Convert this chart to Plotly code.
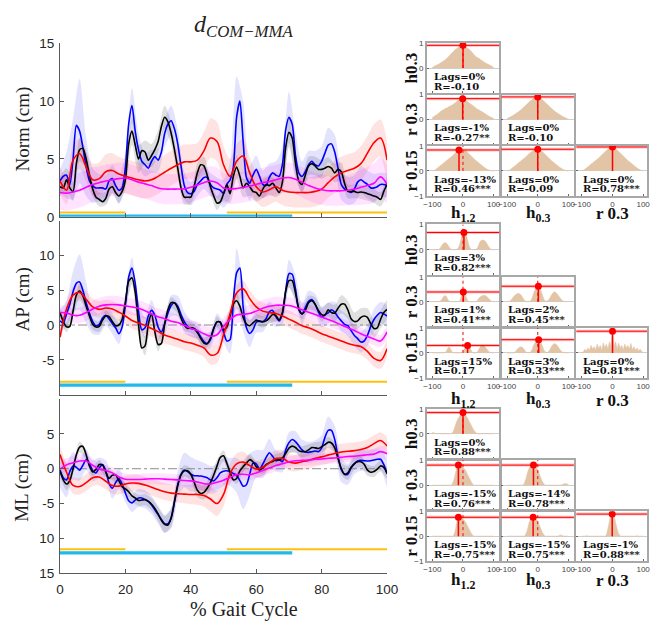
import plotly.graph_objects as go

# ---------------- data ----------------
pct1 = list(range(0, 101))        # 1 % grid (blue / black)
pct2 = list(range(0, 101, 2))     # 2 % grid (red / magenta, band widths)
lags = list(range(-100, 101, 5))  # cross-correlation lags (%)

# Norm panel
norm_blue = [3.1,3.5,3.6,2.8,5.0,7.9,7.4,6.0,4.3,3.1,
             2.7,2.5,2.5,2.5,2.4,3.1,3.3,2.7,2.3,2.5,
             4.3,8.0,9.6,7.4,5.8,4.8,4.5,4.2,4.8,5.2,
             4.9,5.6,7.2,8.0,8.3,7.6,6.3,4.4,2.7,2.1,
             2.0,2.2,2.8,3.1,3.4,3.4,2.8,2.5,2.4,2.3,
             2.0,2.8,3.2,4.3,8.6,10.0,6.5,3.4,2.9,3.6,
             4.1,3.5,2.8,2.7,3.4,3.8,3.6,3.5,4.5,7.5,
             8.6,8.0,5.3,3.8,3.5,3.9,4.5,4.8,4.5,4.4,
             4.8,5.5,6.2,6.3,5.6,4.2,2.8,2.4,2.25,2.1,
             2.4,3.0,3.2,3.0,2.8,2.5,2.5,2.6,2.8,2.8,
             2.7]
norm_black = [2.6,2.5,3.2,2.5,2.2,4.6,5.8,5.9,5.0,3.6,
              2.4,1.7,1.5,1.3,1.6,2.4,2.6,2.1,1.8,2.2,
              3.2,6.3,7.4,6.2,5.0,5.7,5.6,4.9,5.3,5.8,
              6.5,7.8,8.6,8.2,7.2,5.8,4.2,2.5,1.7,1.7,
              1.7,2.6,3.8,4.5,4.4,3.6,2.6,1.8,1.2,1.3,
              2.0,2.8,2.0,3.5,4.3,3.5,2.5,2.9,2.6,2.2,
              2.1,1.8,2.4,2.8,2.7,2.9,2.5,2.1,3.0,6.0,
              7.3,6.8,4.6,3.1,2.8,3.6,4.4,4.6,4.4,4.1,
              4.1,4.2,4.35,4.2,3.8,4.1,3.9,2.9,2.2,2.2,
              2.2,2.1,2.15,2.1,2.0,1.9,1.8,1.7,1.5,2.2,
              2.8]
norm_red = [3.1,2.3,4.9,5.45,4.3,3.2,3.3,3.9,4.0,3.7,
            3.5,3.35,3.2,3.1,3.2,3.5,3.85,4.2,4.5,4.75,
            4.75,4.9,5.7,6.8,6.5,4.5,3.5,4.8,5.25,3.8,
            2.6,2.15,2.35,2.6,2.3,2.15,2.1,2.1,2.1,2.2,
            2.4,2.95,3.45,3.8,4.0,4.2,4.6,5.5,6.4,6.8,
            4.9]
norm_mag = [2.1,2.05,2.15,2.3,2.55,2.8,2.95,3.1,3.2,3.3,
            3.35,3.2,3.0,2.85,2.7,2.5,2.4,2.4,2.4,2.42,
            2.55,2.75,2.95,3.1,2.95,2.5,2.4,2.45,2.55,2.65,
            2.8,2.95,3.05,3.2,3.35,3.4,3.25,3.0,2.7,2.5,
            2.35,2.25,2.25,2.25,2.3,2.4,2.55,2.7,2.9,3.45,
            2.8]
norm_blue_sd = [1.0,2.0,3.5,4.5,2.5,1.5,1.2,1.2,1.2,1.2,
                1.3,1.5,1.4,1.0,1.0,1.0,1.2,1.3,1.3,1.2,
                1.0,1.0,1.0,1.0,1.0,1.2,1.5,3.5,3.5,1.5,
                1.2,1.2,1.2,1.2,1.5,2.2,2.0,1.3,1.2,1.2,
                1.3,1.5,1.5,1.3,1.2,1.2,1.2,1.2,1.2,1.0,
                1.0]
norm_black_sd = [0.8,1.0,0.8,1.0,0.8,0.6,0.6,0.6,0.6,0.6,
                 0.8,1.2,1.2,1.0,1.0,1.0,1.0,1.0,0.8,0.6,
                 0.6,0.8,0.8,0.6,0.6,0.6,0.8,1.0,0.8,0.8,
                 0.8,0.8,0.8,0.8,0.8,1.3,1.0,0.8,0.8,0.8,
                 0.8,0.8,0.8,0.8,0.6,0.6,0.6,0.6,0.6,0.6,
                 0.7]
norm_red_sd = [1.2,1.2,1.3,1.3,1.3,1.4,1.4,1.5,1.5,1.5,
               1.5,1.5,1.5,1.5,1.5,1.5,1.5,1.5,1.5,1.5,
               1.5,1.5,1.6,1.7,1.7,1.6,1.5,1.5,1.5,1.4,
               1.3,1.3,1.3,1.3,1.3,1.3,1.3,1.3,1.3,1.3,
               1.3,1.3,1.4,1.4,1.4,1.4,1.5,1.5,1.6,1.6,
               1.6]
norm_mag_sd = [1.5,1.5,1.5,1.5,1.5,1.5,1.4,1.4,1.4,1.4,
               1.3,1.3,1.3,1.3,1.3,1.3,1.3,1.3,1.3,1.3,
               1.3,1.3,1.3,1.3,1.3,1.3,1.3,1.3,1.3,1.3,
               1.3,1.3,1.3,1.3,1.3,1.3,1.3,1.3,1.3,1.3,
               1.3,1.3,1.3,1.3,1.3,1.4,1.5,1.6,1.7,1.7,
               1.6]

# AP panel
ap_blue = [0.6,0.3,1.6,3.0,4.8,6.0,6.2,5.0,3.2,1.7,
           0.5,-0.1,0.1,1.0,1.4,0.9,0.2,-0.4,-1.25,-0.3,
           2.9,6.9,8.2,6.0,2.0,-0.7,-0.4,1.3,2.1,1.4,
           -0.3,-1.0,0.15,1.7,2.8,3.2,2.7,1.5,0.5,-0.2,
           -0.5,-0.55,-0.9,-1.7,-2.4,-2.65,-2.1,-0.5,0.45,0.4,
           -1.0,-2.3,-2.1,3.5,7.5,8.2,2.6,-0.4,-1.2,-0.7,
           0.4,0.6,0.5,0.9,1.9,2.1,1.2,0.6,1.6,5.0,
           7.4,7.3,5.2,2.2,1.6,2.5,3.4,3.65,3.0,1.9,
           1.15,1.5,1.75,2.2,1.85,1.15,0.6,0.1,-0.1,-0.8,
           -1.5,-1.95,-2.45,-2.3,-1.5,-0.2,0.8,1.4,1.8,1.6,
           1.3]
ap_black = [1.8,0.5,-0.25,-0.2,2.0,4.3,4.9,4.2,2.7,1.3,
            0.1,-0.3,-0.2,0.7,1.3,1.2,0.5,-0.1,0.0,0.8,
            3.3,6.3,6.8,4.7,0.15,-3.3,-3.0,0.15,1.6,-1.0,
            -2.8,-2.65,0.15,2.2,3.2,3.2,2.4,1.0,0.0,-0.5,
            -0.35,-0.5,-1.1,-1.9,-2.6,-2.7,-1.9,-0.5,0.45,0.4,
            -0.7,-0.3,1.3,3.0,3.5,2.7,1.1,0.15,-0.1,0.3,
            0.7,0.5,0.45,0.6,1.0,1.5,1.35,0.75,1.8,4.8,
            6.4,6.4,4.6,2.4,1.6,2.1,3.2,3.5,3.0,2.1,
            1.5,1.4,2.2,1.8,1.7,2.4,3.0,3.0,2.2,0.9,
            0.5,0.6,1.1,1.3,1.1,0.2,-0.5,-0.4,0.8,1.8,
            2.25]
ap_red = [-1.75,2.3,4.3,4.7,3.7,2.6,2.25,2.45,2.3,1.85,
          1.3,0.65,0.3,-0.05,-0.5,-0.95,-1.45,-1.75,-2.05,-2.4,
          -2.6,-2.9,-3.3,-4.3,-4.1,-1.4,1.6,4.6,5.2,3.8,
          2.6,2.0,1.8,1.65,1.3,0.85,0.4,-0.1,-0.4,-0.8,
          -1.25,-1.6,-1.95,-2.3,-2.65,-2.9,-3.1,-3.8,-4.8,-5.1,
          -3.4]
ap_mag = [1.8,1.75,1.4,1.4,1.8,2.3,2.7,2.9,2.95,2.9,
          2.75,2.6,2.4,2.05,1.6,1.2,0.9,0.55,0.35,-0.05,
          -0.45,-0.8,-1.25,-1.6,-1.4,-0.2,0.8,1.45,1.55,1.65,
          2.0,2.4,2.7,2.85,2.85,2.8,2.55,2.2,1.85,1.5,
          1.15,0.8,0.45,0.0,-0.4,-0.8,-1.25,-1.65,-2.0,-2.3,
          -1.0]
ap_blue_sd = [1.5,2.0,3.0,4.0,3.0,1.8,1.5,1.5,1.5,1.5,
              1.5,1.5,1.5,1.5,1.5,1.5,1.5,1.5,1.5,1.5,
              1.2,1.2,1.2,1.2,1.2,1.5,2.0,3.5,3.5,2.0,
              1.5,1.5,1.5,1.5,1.5,2.0,2.0,1.5,1.5,1.5,
              1.5,1.5,1.5,1.5,1.5,1.5,1.5,1.5,1.5,1.5,
              1.5]
ap_black_sd = [0.8,0.8,0.8,1.0,0.8,0.8,0.8,0.8,0.8,0.8,
               1.0,1.0,1.4,1.4,1.0,1.0,0.8,0.8,0.8,0.8,
               0.8,0.8,0.8,0.8,0.8,0.8,1.0,1.2,0.8,0.8,
               0.8,0.8,0.8,0.8,0.8,1.0,1.0,0.8,1.0,1.0,
               1.0,1.0,1.2,1.3,1.3,1.3,1.3,1.3,1.3,1.3,
               1.3]
ap_red_sd = [1.0,1.1,1.2,1.2,1.2,1.2,1.2,1.2,1.2,1.2,
             1.2,1.2,1.2,1.2,1.2,1.2,1.2,1.2,1.2,1.2,
             1.2,1.2,1.3,1.4,1.4,1.3,1.2,1.2,1.2,1.2,
             1.2,1.2,1.2,1.2,1.2,1.2,1.2,1.2,1.2,1.2,
             1.2,1.2,1.2,1.2,1.2,1.2,1.2,1.2,1.2,1.2,
             1.2]
ap_mag_sd = [1.0,1.0,1.1,1.1,1.2,1.2,1.2,1.25,1.25,1.25,
             1.2,1.2,1.2,1.2,1.2,1.2,1.2,1.2,1.2,1.2,
             1.2,1.2,1.3,1.3,1.3,1.2,1.2,1.2,1.2,1.2,
             1.2,1.2,1.2,1.2,1.2,1.2,1.2,1.2,1.1,1.1,
             1.1,1.0,1.0,1.0,1.0,0.9,0.9,0.9,0.9,0.85,
             0.85]

# ML panel
ml_blue = [-0.2,-1.3,-1.6,-0.4,0.4,0.2,-0.2,0.5,1.3,0.8,
           -0.3,-0.6,0.1,0.6,-0.3,-2.1,-2.8,-2.0,-1.4,-2.2,
           -3.5,-4.6,-4.9,-4.5,-4.2,-4.2,-4.4,-4.7,-5.2,-5.9,
           -6.6,-7.3,-7.9,-7.9,-7.1,-4.8,-2.3,-0.8,-0.2,-0.4,
           -0.8,-1.0,-1.0,-1.05,-1.15,-1.3,-1.6,-1.75,-1.3,-0.6,
           -0.35,-0.3,-0.45,-0.7,-0.95,-1.7,-2.5,-2.3,-0.8,0.8,
           0.7,-0.05,0.65,1.6,2.3,1.8,1.15,1.3,1.0,2.7,
           3.75,4.2,3.9,3.3,2.7,2.4,2.35,2.45,2.55,2.45,
           3.0,4.5,5.5,5.5,4.2,1.8,-0.1,-0.8,-0.8,0.1,
           0.7,1.1,1.2,1.15,1.1,1.15,1.25,1.35,1.35,0.6,
           -0.75]
ml_black = [-0.3,-1.6,-2.2,-1.7,0.0,2.0,3.1,3.2,2.0,0.4,
            -0.45,-0.1,0.6,0.55,-0.5,-1.4,-0.95,-0.9,-1.7,-2.6,
            -2.9,-3.3,-3.9,-4.2,-4.55,-4.5,-4.45,-4.7,-5.1,-5.7,
            -6.5,-7.4,-8.0,-8.1,-7.0,-4.7,-2.4,-0.9,-0.3,-0.3,
            -0.8,-1.9,-3.1,-3.55,-3.4,-2.8,-2.0,-0.9,0.4,1.6,
            1.85,0.8,-0.5,-1.6,-1.4,-0.3,0.3,0.8,1.3,1.0,
            0.3,-0.2,0.1,0.6,0.85,1.05,1.3,1.25,1.55,2.2,
            2.95,3.25,3.05,2.6,2.45,2.45,2.7,3.05,3.0,2.9,
            3.15,3.45,3.8,3.7,3.0,1.5,0.0,-0.8,-0.6,0.2,
            0.75,1.0,1.0,0.65,-0.2,-0.5,-0.4,-0.05,0.4,0.2,
            -0.65]
ml_red = [2.05,-0.5,-2.4,-2.55,-2.0,-1.3,-1.2,-1.8,-2.4,-2.5,
          -2.2,-2.05,-2.1,-2.35,-2.65,-3.0,-3.3,-3.5,-3.6,-3.65,
          -3.7,-3.7,-3.85,-4.35,-5.0,-3.7,-0.7,0.7,0.95,0.45,
          -0.05,0.2,0.85,1.45,1.5,0.95,0.8,1.0,1.2,1.5,
          1.7,1.95,2.2,2.4,2.5,2.6,2.75,3.05,3.6,4.05,
          3.25]
ml_mag = [-0.05,0.55,0.85,1.1,1.1,0.5,-0.05,-0.25,-0.6,-1.2,
          -1.5,-1.55,-1.55,-1.5,-1.45,-1.45,-1.5,-1.55,-1.6,-1.7,
          -1.75,-1.9,-2.15,-2.2,-1.95,-1.65,-1.25,-0.85,-0.8,-0.85,
          -0.6,-0.25,0.1,0.45,0.7,1.0,1.15,1.2,1.25,1.35,
          1.4,1.5,1.55,1.65,1.75,1.8,1.9,2.0,2.1,2.45,
          2.15]
ml_blue_sd = [2.5,2.5,2.0,1.5,1.5,1.5,1.5,1.5,1.5,1.5,
              1.3,1.3,1.3,1.3,1.3,1.3,1.3,1.5,2.0,2.5,
              2.5,2.2,2.0,2.0,2.0,2.0,2.0,2.5,3.3,3.0,
              2.0,2.0,2.0,1.5,1.5,1.5,1.5,1.5,1.5,1.5,
              1.8,2.0,2.0,1.8,1.5,1.5,1.5,1.5,1.5,1.5,
              1.8]
ml_black_sd = [0.9,0.9,0.8,0.8,0.7,0.7,0.7,0.7,0.7,0.7,
               0.8,0.8,0.8,0.8,0.9,1.0,1.2,1.3,1.0,0.8,
               0.9,1.0,1.0,1.0,0.9,0.8,0.8,0.8,0.8,0.8,
               0.8,0.8,0.8,0.8,0.8,0.8,0.8,0.8,0.8,0.8,
               0.8,0.8,0.8,0.9,1.0,0.9,0.8,0.8,0.8,0.8,
               0.8]
ml_red_sd = [1.2,1.2,1.2,1.2,1.2,1.2,1.2,1.2,1.2,1.2,
             1.2,1.2,1.2,1.2,1.2,1.2,1.2,1.2,1.2,1.3,
             1.4,1.5,1.6,1.8,1.8,1.7,1.5,1.5,1.5,1.3,
             1.2,1.2,1.2,1.2,1.2,1.2,1.2,1.2,1.2,1.2,
             1.2,1.2,1.2,1.2,1.2,1.2,1.2,1.2,1.2,1.2,
             1.2]
ml_mag_sd = [1.0,1.0,1.0,1.0,0.9,0.9,0.8,0.8,0.8,0.8,
             0.8,0.8,0.8,0.8,0.8,0.8,0.8,0.8,0.8,0.8,
             0.9,1.0,1.0,1.0,1.0,0.9,0.8,0.8,0.8,0.8,
             0.8,0.8,0.8,0.8,0.8,0.8,0.8,0.8,0.8,0.8,
             0.8,0.8,0.8,0.8,0.8,0.8,0.8,0.8,0.8,0.9,
             0.9]

# gait phases (% gait cycle)
yellow_phases = [(0, 20), (51, 100)]
cyan_phases = [(0, 71)]

# cross-correlation curves: [group][row][col]
g1 = [
    [[0.03,0.06,0.09,0.12,0.15,0.19,0.23,0.27,0.31,0.36,0.42,0.48,0.55,0.62,0.68,0.74,0.78,0.83,0.88,0.91,0.92,0.89,0.84,0.79,0.75,0.69,0.62,0.55,0.48,0.43,0.40,0.36,0.31,0.27,0.23,0.19,0.16,0.13,0.10,0.06,0.03]],
    [[0.08,0.12,0.16,0.2,0.25,0.3,0.35,0.38,0.42,0.45,0.48,0.52,0.55,0.58,0.63,0.68,0.73,0.78,0.81,0.83,0.84,0.8,0.76,0.72,0.67,0.62,0.58,0.53,0.48,0.43,0.4,0.36,0.33,0.29,0.25,0.21,0.17,0.13,0.1,0.07,0.04],
     [0.04,0.07,0.1,0.13,0.17,0.21,0.25,0.29,0.34,0.39,0.44,0.5,0.56,0.62,0.68,0.74,0.79,0.84,0.88,0.9,0.91,0.89,0.85,0.8,0.74,0.68,0.62,0.56,0.5,0.44,0.39,0.34,0.29,0.25,0.21,0.17,0.13,0.1,0.07,0.04,0.02]],
    [[0.0,0.02,0.05,0.1,0.15,0.2,0.25,0.3,0.35,0.4,0.45,0.5,0.55,0.6,0.66,0.72,0.77,0.82,0.83,0.8,0.7,0.82,0.8,0.74,0.68,0.62,0.56,0.5,0.44,0.39,0.34,0.29,0.24,0.19,0.14,0.1,0.06,0.03,0.01,0.0,0.0],
     [0.0,0.02,0.05,0.1,0.15,0.2,0.25,0.3,0.35,0.4,0.45,0.5,0.55,0.61,0.67,0.72,0.77,0.81,0.85,0.87,0.87,0.86,0.82,0.77,0.71,0.65,0.59,0.53,0.47,0.41,0.36,0.31,0.26,0.21,0.16,0.12,0.08,0.05,0.02,0.0,0.0],
     [0.0,0.03,0.07,0.12,0.17,0.22,0.27,0.32,0.37,0.42,0.47,0.52,0.58,0.64,0.7,0.76,0.82,0.87,0.91,0.94,0.95,0.93,0.89,0.84,0.78,0.72,0.66,0.6,0.54,0.48,0.42,0.37,0.32,0.27,0.22,0.17,0.12,0.08,0.04,0.02,0.0]],
]
g2 = [
    [[0,0,0,0,0.01,0.05,0.15,0.24,0.28,0.27,0.2,0.1,0.03,0,0,0,0.02,0.08,0.25,0.5,0.66,0.66,0.58,0.38,0.15,0.04,0,0,0,0.03,0.15,0.3,0.37,0.38,0.36,0.3,0.2,0.1,0.03,0,0]],
    [[0,0,0,0,0,0.02,0.08,0.18,0.24,0.22,0.1,0.02,0,0,0,0,0,0,0.05,0.25,0.38,0.36,0.2,0.05,0,0,0,0,0,0.02,0.1,0.18,0.22,0.25,0.25,0.23,0.18,0.12,0.05,0.01,0],
     [0,0.01,0.03,0.1,0.18,0.25,0.3,0.33,0.32,0.27,0.18,0.08,0.02,0,0,0.02,0.1,0.28,0.45,0.58,0.62,0.58,0.45,0.28,0.1,0.03,0.02,0.06,0.15,0.27,0.36,0.39,0.36,0.28,0.2,0.12,0.05,0.02,0,0,0]],
    [[0,0,0,0,0,0,0,0,0,0.05,0.18,0.24,0.15,0.03,0,0,0,0,0,0,0.05,0.18,0.27,0.3,0.27,0.15,0.03,0,0,0.02,0.1,0.22,0.29,0.3,0.27,0.2,0.12,0.05,0.01,0,0],
     [0,0,0,0,0,0.03,0.1,0.17,0.22,0.24,0.22,0.15,0.06,0.01,0,0.02,0.1,0.25,0.38,0.48,0.53,0.52,0.42,0.28,0.12,0.04,0.01,0.05,0.14,0.26,0.34,0.37,0.34,0.27,0.18,0.1,0.04,0.01,0,0,0],
     [0,0.05,0.15,0.08,0.2,0.1,0.3,0.15,0.25,0.12,0.35,0.18,0.3,0.1,0.4,0.2,0.35,0.15,0.45,0.25,0.87,0.25,0.45,0.15,0.4,0.2,0.3,0.12,0.35,0.2,0.3,0.15,0.38,0.12,0.25,0.1,0.2,0.08,0.15,0.05,0]],
]
g3 = [
    [[0.05,0.04,0.01,0,0,0,0,0,0,0,0,0,0,0.03,0.15,0.33,0.5,0.62,0.72,0.8,0.84,0.8,0.72,0.62,0.5,0.38,0.26,0.15,0.07,0.02,0,0,0,0,0,0,0,0,0,0,0]],
    [[0,0,0,0,0,0,0,0,0,0,0,0,0,0.05,0.2,0.45,0.68,0.78,0.77,0.74,0.7,0.64,0.55,0.42,0.3,0.18,0.07,0.01,0,0,0,0,0,0,0,0,0,0,0,0,0],
     [0,0,0,0,0,0,0,0,0,0,0,0.05,0.2,0.42,0.62,0.74,0.79,0.79,0.76,0.7,0.6,0.45,0.3,0.15,0.05,0,0,0,0,0,0,0,0,0,0,0,0.02,0.05,0.06,0.05,0.03]],
    [[0,0,0,0,0,0,0,0,0,0,0,0,0,0,0.05,0.25,0.55,0.75,0.76,0.73,0.68,0.62,0.52,0.4,0.28,0.16,0.06,0.01,0,0,0,0,0,0,0,0,0,0,0,0,0],
     [0,0,0,0,0,0,0,0,0,0,0,0,0.05,0.2,0.45,0.65,0.74,0.76,0.73,0.68,0.58,0.45,0.3,0.15,0.05,0,0,0,0,0,0,0,0,0,0.03,0.04,0.03,0,0,0,0],
     [0,0,0,0.02,0,0,0,0,0,0,0,0,0,0,0,0,0.05,0.3,0.6,0.87,0.88,0.8,0.55,0.3,0.1,0.02,0,0,0,0,0,0,0,0,0,0,0.02,0,0,0,0]],
]
xc_curves = [g1, g2, g3]
peak_lags = [[[0], [-1, 0], [-13, 0, 0]],
             [[3], [1, 2], [15, 3, 0]],
             [[0], [-15, -14], [-15, -15, -1]]]
peak_vals = [[[0.91], [0.84, 0.91], [0.84, 0.87, 0.96]],
             [[0.68], [0.39, 0.62], [0.30, 0.53, 0.87]],
             [[0.85], [0.80, 0.80], [0.76, 0.76, 0.89]]]
lag_text = [[["Lags=0%"], ["Lags=-1%", "Lags=0%"], ["Lags=-13%", "Lags=0%", "Lags=0%"]],
            [["Lags=3%"], ["Lags=1%", "Lags=2%"], ["Lags=15%", "Lags=3%", "Lags=0%"]],
            [["Lags=0%"], ["Lags=-15%", "Lags=-14%"], ["Lags=-15%", "Lags=-15%", "Lags=-1%"]]]
r_text = [[["R=-0.10"], ["R=-0.27**", "R=-0.10"], ["R=0.46***", "R=-0.09", "R=0.78***"]],
          [["R=0.82***"], ["R=0.41***", "R=0.45***"], ["R=0.17", "R=0.33***", "R=0.81***"]],
          [["R=0.88***"], ["R=0.76***", "R=0.78***"], ["R=-0.75***", "R=0.75***", "R=0.88***"]]]
row_labels = ["h0.3", "r 0.3", "r 0.15"]
col_labels = ["h<sub>1.2</sub>", "h<sub>0.3</sub>", "r 0.3"]

# ---------------- layout helpers ----------------
W, H = 658, 628
def fx(px):
    return px / W
def fy(py):
    return 1 - py / H

BLUE, BLACK, RED, MAG = "#0000FF", "#000000", "#FF0000", "#FF00FF"
BANDS = {BLUE: "rgba(0,0,255,0.11)", BLACK: "rgba(0,0,0,0.12)",
         RED: "rgba(255,0,0,0.11)", MAG: "rgba(255,0,255,0.11)"}
YELLOW, CYAN = "#FFC10E", "#1FB9EC"
TAN = "rgb(226,196,166)"
AXC = "#5a5a5a"
TICKF = dict(family="Liberation Sans, Arial", size=13.5, color="#262626")
SERIF = "Liberation Serif, Times New Roman"

panels = [
    dict(top=37, bot=215, yr=[0, 15], tv=[0, 5, 10, 15], tt=["0", "5", "10", "15"],
         title="Norm (cm)", ty=125, zero=False, ybar=(0.38, 0.06),
         s=[(norm_blue, norm_blue_sd, BLUE, 1), (norm_black, norm_black_sd, BLACK, 1),
            (norm_red, norm_red_sd, RED, 2), (norm_mag, norm_mag_sd, MAG, 2)]),
    dict(top=219, bot=397, yr=[-10, 15], tv=[-5, 0, 5, 10], tt=["-5", "0", "5", "10"],
         title="AP (cm)", ty=300, zero=True, ybar=(-8.15, -8.65),
         s=[(ap_blue, ap_blue_sd, BLUE, 1), (ap_black, ap_black_sd, BLACK, 1),
            (ap_red, ap_red_sd, RED, 2), (ap_mag, ap_mag_sd, MAG, 2)]),
    dict(top=401.7, bot=580, yr=[-15, 10], tv=[-15, -10, -5, 0, 5], tt=["15", "10", "-5", "0", "5"],
         title="ML (cm)", ty=493, zero=True, ybar=(-11.55, -12.1),
         s=[(ml_blue, ml_blue_sd, BLUE, 1), (ml_black, ml_black_sd, BLACK, 1),
            (ml_red, ml_red_sd, RED, 2), (ml_mag, ml_mag_sd, MAG, 2)]),
]
MX0, MX1 = 57.3, 392.0

fig = go.Figure()
layout = dict(width=W, height=H, margin=dict(l=0, r=0, t=0, b=0),
              paper_bgcolor="white", plot_bgcolor="white", showlegend=False)
annotations = []
shapes = []

for i, p in enumerate(panels, start=1):
    xa = "x" if i == 1 else f"x{i}"
    ya = "y" if i == 1 else f"y{i}"
    xk = "xaxis" if i == 1 else f"xaxis{i}"
    yk = "yaxis" if i == 1 else f"yaxis{i}"
    layout[xk] = dict(domain=[fx(MX0), fx(MX1)], range=[0, 100], anchor=ya,
                      showline=True, linecolor=AXC, linewidth=1, ticks="inside",
                      ticklen=4, tickcolor=AXC, tickvals=[0, 20, 40, 60, 80, 100],
                      showticklabels=(i == 3), tickfont=TICKF, showgrid=False,
                      zeroline=False, ticklabelstandoff=4)
    layout[yk] = dict(domain=[fy(p["bot"]), fy(p["top"])], range=p["yr"], anchor=xa,
                      showline=True, linecolor=AXC, linewidth=1, ticks="inside",
                      ticklen=4, tickcolor=AXC, tickvals=p["tv"], ticktext=p["tt"],
                      tickfont=TICKF, showgrid=False, zeroline=False, ticklabelstandoff=2)
    # bands
    for vals, sd, col, step in p["s"]:
        mid = vals[::2] if step == 1 else vals
        up = [m + s for m, s in zip(mid, sd)]
        lo = [m - s for m, s in zip(mid, sd)]
        fig.add_trace(go.Scatter(x=pct2 + pct2[::-1], y=up + lo[::-1], fill="toself",
                                 fillcolor=BANDS[col], line=dict(width=0, shape="spline", smoothing=0.8),
                                 mode="lines", hoverinfo="skip", xaxis=xa, yaxis=ya))
    if p["zero"]:
        fig.add_trace(go.Scatter(x=[pct1[0], pct1[-1]], y=[0, 0], mode="lines",
                                 line=dict(color="#8c8c8c", width=1, dash="dashdot"),
                                 xaxis=xa, yaxis=ya, hoverinfo="skip"))
    for vals, sd, col, step in p["s"]:
        xs = pct1 if step == 1 else pct2
        fig.add_trace(go.Scatter(x=xs, y=vals, mode="lines",
                                 line=dict(color=col, width=1.6, shape="spline", smoothing=0.7 if step == 1 else 1.0),
                                 xaxis=xa, yaxis=ya, hoverinfo="skip"))
    # phase bars
    for a, b in yellow_phases:
        fig.add_trace(go.Scatter(x=[a, b], y=[p["ybar"][0]] * 2, mode="lines",
                                 line=dict(color=YELLOW, width=2), xaxis=xa, yaxis=ya, hoverinfo="skip"))
    for a, b in cyan_phases:
        fig.add_trace(go.Scatter(x=[a, b], y=[p["ybar"][1]] * 2, mode="lines",
                                 line=dict(color=CYAN, width=3.2), xaxis=xa, yaxis=ya, hoverinfo="skip"))
    annotations.append(dict(text=p["title"], x=fx(19), y=fy(p["ty"]), xref="paper", yref="paper",
                            textangle=-90, showarrow=False, font=dict(family=SERIF, size=19, color="#222"),
                            xanchor="center", yanchor="middle"))

annotations.append(dict(text="<i>d<sub>COM\u2212MMA</sub></i>", x=fx(246), y=fy(19), xref="paper", yref="paper",
                        showarrow=False, font=dict(family=SERIF, size=24, color="#222"),
                        xanchor="center", yanchor="middle"))
annotations.append(dict(text="% Gait Cycle", x=fx(246), y=fy(617), xref="paper", yref="paper",
                        showarrow=False, font=dict(family=SERIF, size=20, color="#222"),
                        xanchor="center", yanchor="middle"))

# ---------------- cross-correlation cells ----------------
cell_cols = [(432.7, 506.7), (509.2, 583.2), (585.7, 658.0)]
CELL_W = 74.0
LAG_HALF = 118.0
group_rows = [
    [(37, 88), (89.8, 140.8), (142.4, 193.4)],
    [(222.7, 274.7), (276.4, 327.4), (328.8, 380)],
    [(411.7, 462.7), (464.2, 515.5), (516.7, 567.5)],
]
col_label_y = [212, 403, 588]
CELLC = "#a8a8a8"
SMALLF = dict(family="Liberation Sans, Arial", size=8, color="#444")
TXTF = dict(family="DejaVu Serif", size=10, color="#111")
LABF = dict(family=SERIF, size=17, color="#111")

n = 4
for g in range(3):
    for r in range(3):
        t, b = group_rows[g][r]
        for c in range(r + 1):
            l, rr = cell_cols[c]
            xr = [-LAG_HALF, -LAG_HALF + 2 * LAG_HALF * (rr - l) / CELL_W]
            xa, ya = f"x{n}", f"y{n}"
            layout[f"xaxis{n}"] = dict(domain=[fx(l), fx(rr)], range=xr, anchor=ya,
                                       showline=True, mirror=True, linecolor=CELLC, linewidth=1.5,
                                       ticks="inside", ticklen=2, tickcolor="#666",
                                       tickvals=[-100, 0, 100], showticklabels=(r == 2),
                                       tickfont=SMALLF, showgrid=False, zeroline=False)
            layout[f"yaxis{n}"] = dict(domain=[fy(b), fy(t)], range=[-1, 1], anchor=xa,
                                       showline=True, mirror=True, linecolor=CELLC, linewidth=1.5,
                                       ticks="inside", ticklen=2, tickcolor="#666",
                                       tickvals=[-1, 0, 1] if r == 2 else [0, 1],
                                       showticklabels=(c == 0), tickfont=SMALLF,
                                       showgrid=False, zeroline=True, zerolinecolor="#cfcfcf",
                                       zerolinewidth=1)
            vals = xc_curves[g][r][c]
            spiky = (g == 1 and r == 2 and c == 2)
            fig.add_trace(go.Scatter(x=lags, y=vals, mode="lines", fill="tozeroy", fillcolor=TAN,
                                     line=dict(color=TAN, width=0.6,
                                               shape="linear" if spiky else "spline", smoothing=0.6),
                                     xaxis=xa, yaxis=ya, hoverinfo="skip"))
            lg = peak_lags[g][r][c]
            pv = peak_vals[g][r][c]
            shapes.append(dict(type="line", xref=f"x{n} domain", yref=ya, x0=0, x1=1, y0=pv, y1=pv,
                               line=dict(color="rgba(255,0,0,0.25)", width=3)))
            shapes.append(dict(type="line", xref=f"x{n} domain", yref=ya, x0=0, x1=1, y0=pv, y1=pv,
                               line=dict(color=RED, width=1)))
            shapes.append(dict(type="line", xref=xa, yref=ya, x0=0, x1=0, y0=0, y1=1,
                               line=dict(color=RED, width=1, dash="dot")))
            fig.add_trace(go.Scatter(x=[lg, lg], y=[0, pv], mode="lines",
                                     line=dict(color=RED, width=1.5), xaxis=xa, yaxis=ya, hoverinfo="skip"))
            fig.add_trace(go.Scatter(x=[lg], y=[pv], mode="markers",
                                     marker=dict(color=RED, size=7), xaxis=xa, yaxis=ya, hoverinfo="skip"))
            annotations.append(dict(text=f"<b>{lag_text[g][r][c]}</b>", x=fx(l + 5), y=fy(t + 34),
                                    xref="paper", yref="paper", showarrow=False, font=TXTF,
                                    xanchor="left", yanchor="middle"))
            annotations.append(dict(text=f"<b>{r_text[g][r][c]}</b>", x=fx(l + 5), y=fy(t + 44),
                                    xref="paper", yref="paper", showarrow=False, font=TXTF,
                                    xanchor="left", yanchor="middle"))
            n += 1
        annotations.append(dict(text=f"<b>{row_labels[r]}</b>", x=fx(417), y=fy((t + b) / 2),
                                xref="paper", yref="paper", showarrow=False, textangle=-90,
                                font=LABF, xanchor="center", yanchor="middle"))
    for c in range(3):
        l, rr = cell_cols[c]
        annotations.append(dict(text=f"<b>{col_labels[c]}</b>", x=fx(l + CELL_W / 2), y=fy(col_label_y[g]),
                                xref="paper", yref="paper", showarrow=False, font=LABF,
                                xanchor="center", yanchor="middle"))

layout["annotations"] = annotations
layout["shapes"] = shapes
fig.update_layout(**layout)
fig.write_html("out.html")
